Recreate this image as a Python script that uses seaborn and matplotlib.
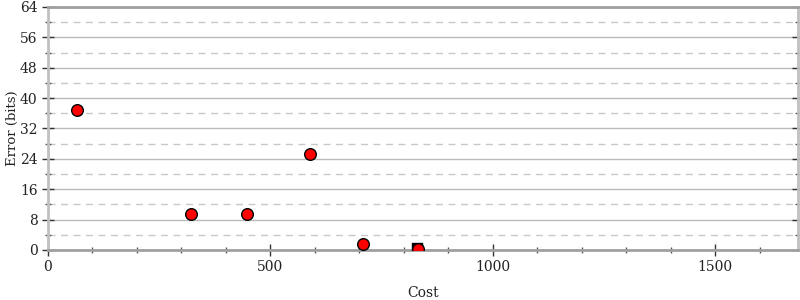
import matplotlib
matplotlib.use("Agg")
import matplotlib.pyplot as plt
import seaborn as sns
import pandas as pd
from matplotlib.ticker import MultipleLocator

sns.set_theme(style="white")
plt.rcParams['font.family'] = ['DejaVu Serif']

cost = [65, 321, 448, 590, 709, 832]
error = [36.8, 9.6, 9.6, 25.2, 1.6, 0.2]
start_cost = [829]
start_error = [0.4]

df = pd.DataFrame({"Cost": cost, "Error (bits)": error})
dfs = pd.DataFrame({"Cost": start_cost, "Error (bits)": start_error})

fig = plt.figure(figsize=(8, 3), dpi=100)
ax = fig.add_axes([0.06, 0.1667, 0.937, 0.81])

ax.set_xlim(0, 1685)
ax.set_ylim(0, 64)
ax.yaxis.set_major_locator(MultipleLocator(8))
ax.yaxis.set_minor_locator(MultipleLocator(4))
ax.xaxis.set_major_locator(MultipleLocator(500))
ax.xaxis.set_minor_locator(MultipleLocator(100))

ax.grid(which='major', axis='y', color='#bbbbbb', linewidth=1, linestyle='-')
ax.grid(which='minor', axis='y', color='#c8c8c8', linewidth=1, linestyle=(0, (5, 4)))
ax.grid(which='major', axis='x', visible=False)
ax.set_axisbelow(True)

sns.scatterplot(data=dfs, x="Cost", y="Error (bits)", ax=ax, marker='s', s=60,
                color='black', edgecolor='black', linewidth=1, zorder=3)
sns.scatterplot(data=df, x="Cost", y="Error (bits)", ax=ax, marker='o', s=70,
                color='#ff0000', edgecolor='black', linewidth=1, zorder=4)

for side in ['left', 'right', 'top', 'bottom']:
    ax.spines[side].set_color('#a0a0a0')
    ax.spines[side].set_linewidth(2)
ax.spines['left'].set_color('#c0c0c0')
ax.spines['right'].set_color('#c0c0c0')

ax.tick_params(axis='both', which='major', direction='inout', length=8, width=1,
               color='#333333', labelsize=10, labelcolor='#222222')
ax.tick_params(axis='both', which='minor', direction='inout', length=5, width=1,
               color='#555555')
ax.tick_params(axis='y', which='both', left=True, right=True)
ax.tick_params(axis='x', which='both', bottom=True, top=False)

ax.set_xlabel("Cost", fontsize=10, color='#222222', labelpad=8)
ax.set_ylabel("Error (bits)", fontsize=9.5, color='#222222')
ax.yaxis.set_label_coords(-0.039, 0.5)

fig.savefig("out.png", dpi=100)
